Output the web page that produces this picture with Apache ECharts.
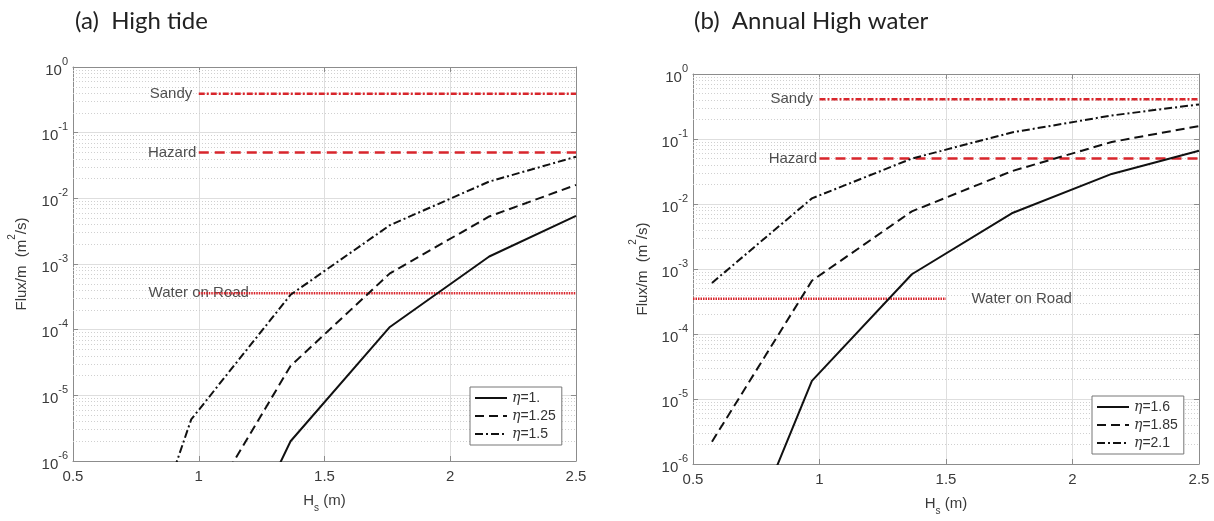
<!DOCTYPE html>
<html><head><meta charset="utf-8">
<script src="https://cdn.jsdelivr.net/npm/echarts@6/dist/echarts.min.js"></script>
<style>html,body{margin:0;padding:0;background:#fff}#c{width:1214px;height:521px}</style>
</head><body><div id="c"></div>
<script>
// ---- data ----
const H = [0.575, 0.97, 1.365, 1.76, 2.155, 2.5];

const namesA = ['η=1.', 'η=1.25', 'η=1.5'];
const fluxA_eta100 = [1e-12, 1.4e-9, 2.0e-6, 1.1e-4, 1.3e-3, 5.4e-3];
const fluxA_eta125 = [2.5e-10, 8e-8, 2.8e-5, 7.2e-4, 5.3e-3, 1.6e-2];
const fluxA_eta150 = [1.6e-10, 4.3e-6, 3.4e-4, 3.9e-3, 1.8e-2, 4.3e-2];

const namesB = ['η=1.6', 'η=1.85', 'η=2.1'];
const fluxB_eta160 = [3.4e-9, 1.9e-5, 8.3e-4, 7.2e-3, 2.9e-2, 6.6e-2];
const fluxB_eta185 = [2.2e-6, 6.6e-4, 7.7e-3, 3.2e-2, 9.0e-2, 1.58e-1];
const fluxB_eta210 = [6.1e-4, 1.22e-2, 5.0e-2, 1.26e-1, 2.3e-1, 3.4e-1];

const refNames = ['Sandy', 'Hazard', 'Water on Road'];
const refLevelsA = [0.39, 0.05, 3.6e-4];
const refStartA = [1.0, 1.0, 1.0];
const refEndA = [2.5, 2.5, 2.5];
const refLevelsB = [0.41, 0.05, 3.5e-4];
const refStartB = [1.0, 1.0, 0.5];
const refEndB = [2.5, 2.5, 1.5];

const xTicks = [0.5, 1, 1.5, 2, 2.5];
const yExponents = [-6, -5, -4, -3, -2, -1, 0];
const minorMultipliers = [2, 3, 4, 5, 6, 7, 8, 9];

// ---- styles ----
const AX = '#8c8c8c';
const TXT = '#3a3a3a';
const RED = '#d8262c';
const FONT = 'Liberation Sans';
const curveTypes = ['solid', [9, 5], [8, 3, 2, 3]];
const refTypes = [[6, 2, 2, 2], [10, 6], [1.5, 1]];

const minorY = [];
yExponents.slice(0, -1).forEach(e => minorMultipliers.forEach(m => minorY.push(m * Math.pow(10, e))));
const xMin = xTicks[0], xMax = xTicks[xTicks.length - 1];

function xAxes(g) {
  return [{
    gridIndex: g, type: 'value', min: xMin, max: xMax, interval: 0.5,
    position: 'bottom',
    axisLine: { show: true, lineStyle: { color: AX, width: 1 } },
    axisTick: { show: true, inside: true, length: 5, lineStyle: { color: AX } },
    axisLabel: { fontSize: 15, color: TXT, fontFamily: FONT, margin: 8,
      formatter: v => String(v) },
    splitLine: { show: true, lineStyle: { color: '#dedede', width: 1 } },
    name: '{a|H}{s|s}{a| (m)}', nameLocation: 'middle', nameGap: 32,
    nameTextStyle: { fontFamily: FONT, color: TXT,
      rich: { a: { fontSize: 15, fontFamily: FONT, color: TXT, lineHeight: 20, verticalAlign: 'top' },
              s: { fontSize: 10, fontFamily: FONT, color: TXT, lineHeight: 20, verticalAlign: 'bottom' } } }
  }, {
    gridIndex: g, type: 'value', min: xMin, max: xMax, interval: 0.5,
    position: 'top',
    axisLine: { show: true, lineStyle: { color: AX, width: 1 } },
    axisTick: { show: true, inside: true, length: 5, lineStyle: { color: AX } },
    axisLabel: { show: false }, splitLine: { show: false }
  }];
}
function yAxes(g, gap) {
  return [{
    gridIndex: g, type: 'log', logBase: 10, min: Math.pow(10, yExponents[0]), max: Math.pow(10, yExponents[yExponents.length - 1]),
    splitNumber: 6, position: 'left',
    axisLine: { show: true, lineStyle: { color: AX, width: 1 } },
    axisTick: { show: true, inside: true, length: 5, lineStyle: { color: AX } },
    axisLabel: { margin: 5, formatter: v => '{b|10}{s|' + Math.round(Math.log10(v)) + '}',
      rich: { b: { fontSize: 15, fontFamily: FONT, color: TXT, lineHeight: 22, verticalAlign: 'bottom' },
              s: { fontSize: 11, fontFamily: FONT, color: TXT, lineHeight: 22, verticalAlign: 'top' } } },
    splitLine: { show: true, lineStyle: { color: '#dedede', width: 1 } },
    name: '{a|Flux/m  (m}{p|2}{a|/s)}', nameLocation: 'middle', nameGap: gap,
    nameTextStyle: { rich: {
      a: { fontSize: 15, fontFamily: FONT, color: TXT, lineHeight: 22, verticalAlign: 'bottom' },
      p: { fontSize: 10, fontFamily: FONT, color: TXT, lineHeight: 22, verticalAlign: 'top' } } }
  }, {
    gridIndex: g, type: 'log', logBase: 10, min: Math.pow(10, yExponents[0]), max: Math.pow(10, yExponents[yExponents.length - 1]),
    splitNumber: 6, position: 'right',
    axisLine: { show: true, lineStyle: { color: AX, width: 1 } },
    axisTick: { show: true, inside: true, length: 5, lineStyle: { color: AX } },
    axisLabel: { show: false }, splitLine: { show: false }
  }];
}

function gridSeries(g) {
  return {
    type: 'lines', coordinateSystem: 'cartesian2d', xAxisIndex: 2 * g, yAxisIndex: 2 * g,
    silent: true, z: 1, polyline: false,
    lineStyle: { type: [1, 2], color: '#d0d0d0', width: 1, opacity: 1 },
    data: minorY.map(v => ({ coords: [[xMin, v], [xMax, v]] }))
  };
}
function curveSeries(g, names, arrs) {
  return names.map((n, i) => ({
    name: n, type: 'line', xAxisIndex: 2 * g, yAxisIndex: 2 * g, symbol: 'none', clip: true,
    data: H.map((h, k) => [h, arrs[i][k]]), z: 4, silent: true,
    lineStyle: { color: '#111', width: 2, type: curveTypes[i] },
    itemStyle: { color: '#111' }
  }));
}
function refSeries(g, levels, starts, ends) {
  return refNames.map((n, i) => ({
    name: n + g, type: 'line', xAxisIndex: 2 * g, yAxisIndex: 2 * g, symbol: 'none', silent: true, z: 3,
    data: [[starts[i], levels[i]], [ends[i], levels[i]]],
    lineStyle: { color: RED, width: 2.5, type: refTypes[i] }, itemStyle: { color: RED }
  }));
}
function refLabels(g, levels, starts, ends, cfg) {
  return {
    type: 'scatter', xAxisIndex: 2 * g, yAxisIndex: 2 * g, symbolSize: 1, silent: true, z: 2,
    itemStyle: { color: 'rgba(0,0,0,0)' },
    data: refNames.map((n, i) => ({
      value: [cfg[i].at === 0 ? starts[i] : ends[i], levels[i]],
      label: Object.assign({ show: true, formatter: n, color: '#222', fontSize: 15, fontFamily: FONT }, cfg[i].lab)
    }))
  };
}

function legend(names, left, top) {
  return {
    data: names, orient: 'vertical', left: left, top: top, itemWidth: 32, itemHeight: 14, itemGap: 4,
    padding: [4, 6, 4, 4], borderColor: '#777', borderWidth: 1, backgroundColor: '#fff', selectedMode: false,
    itemStyle: { opacity: 0, color: 'rgba(0,0,0,0)', borderWidth: 0 },
    formatter: n => '{i|η}{t|' + n.slice(1) + '}',
    textStyle: { rich: {
      i: { fontSize: 14, fontStyle: 'italic', fontFamily: 'DejaVu Serif', color: '#333' },
      t: { fontSize: 14, fontFamily: FONT, color: '#333' } } }
  };
}

const titleStyle = { fontFamily: 'Lato', fontSize: 24, fontWeight: 'normal', color: '#222' };
const option = {
  backgroundColor: '#fff',
  animation: false,
  title: [
    { text: '(a)  High tide', left: 75, top: 9, padding: 0, textStyle: titleStyle },
    { text: '(b)  Annual High water', left: 694, top: 9, padding: 0, textStyle: titleStyle }
  ],
  grid: [
    { left: 73, top: 67, width: 503, height: 394 },
    { left: 693, top: 74, width: 506, height: 395 }
  ],
  xAxis: [...xAxes(0), ...xAxes(1)],
  yAxis: [...yAxes(0, 44), ...yAxes(1, 43)],
  legend: [legend(namesA, 470, 387), legend(namesB, 1092, 396)],
  series: [
    gridSeries(0), gridSeries(1),
    ...refSeries(0, refLevelsA, refStartA, refEndA),
    ...refSeries(1, refLevelsB, refStartB, refEndB),
    refLabels(0, refLevelsA, refStartA, refEndA, [
      { at: 0, lab: { position: 'left', distance: 6 } },
      { at: 0, lab: { position: 'left', distance: 2 } },
      { at: 0, lab: { position: 'inside' } }
    ]),
    refLabels(1, refLevelsB, refStartB, refEndB, [
      { at: 0, lab: { position: 'left', distance: 6 } },
      { at: 0, lab: { position: 'left', distance: 2 } },
      { at: 1, lab: { position: 'right', distance: 25 } }
    ]),
    ...curveSeries(0, namesA, [fluxA_eta100, fluxA_eta125, fluxA_eta150]),
    ...curveSeries(1, namesB, [fluxB_eta160, fluxB_eta185, fluxB_eta210])
  ]
};
const chart = echarts.init(document.getElementById('c'), null, { renderer: 'canvas' });
chart.setOption(option);
</script></body></html>
